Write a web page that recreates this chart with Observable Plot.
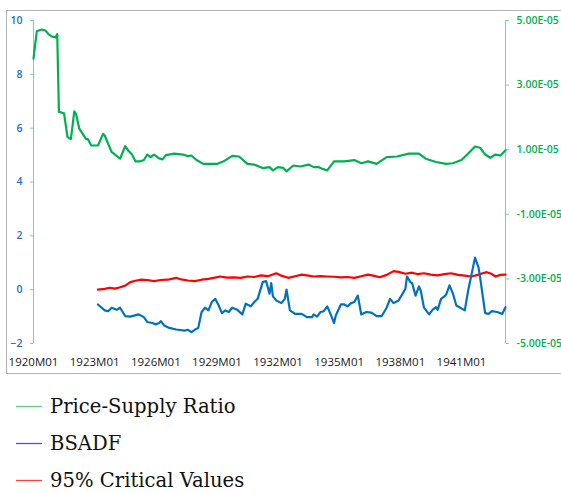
<!DOCTYPE html>
<html><head><meta charset="utf-8">
<script src="https://cdn.jsdelivr.net/npm/d3@7"></script>
<script src="https://cdn.jsdelivr.net/npm/@observablehq/plot@0.6"></script>
<style>
body{margin:0;width:561px;height:493px;overflow:hidden;background:#fff;position:relative}
#frame{position:absolute;left:6px;top:10px;width:620px;height:362px;border:1px solid #b3b3b3}
#chart{position:absolute;left:0;top:0}
#legend{position:absolute;left:0;top:0;width:561px;height:493px;pointer-events:none}
</style></head>
<body>
<div id="frame"></div>
<div id="chart"></div>
<svg id="legend" width="561" height="493"></svg>
<script>
// Price-Supply Ratio (right axis, values ×1e-5)
const psrMonths = ["1920M01","1920M03","1920M06","1920M08","1920M10","1920M12","1921M02","1921M03","1921M04","1921M07","1921M09","1921M11","1922M01","1922M02","1922M04","1922M06","1922M08","1922M09","1922M11","1923M03","1923M06","1923M07","1923M09","1923M11","1924M01","1924M04","1924M07","1924M09","1924M11","1925M01","1925M04","1925M06","1925M08","1925M10","1925M12","1926M03","1926M05","1926M07","1926M12","1927M05","1927M08","1927M10","1928M01","1928M05","1928M09","1929M01","1929M05","1929M10","1930M02","1930M07","1930M11","1931M04","1931M08","1931M10","1932M01","1932M04","1932M06","1932M10","1933M02","1933M07","1933M10","1934M01","1934M03","1934M06","1934M10","1935M04","1935M10","1936M02","1936M06","1936M11","1937M05","1937M11","1938M06","1938M12","1939M04","1939M10","1940M04","1940M08","1941M01","1941M05","1941M09","1941M12","1942M03","1942M06","1942M09","1942M12","1943M03"];
const psrE5 = [3.82,4.67,4.72,4.69,4.57,4.50,4.48,4.58,2.17,2.13,1.39,1.33,2.19,2.11,1.65,1.49,1.33,1.33,1.13,1.13,1.49,1.44,1.18,0.93,0.85,0.72,1.11,0.96,0.85,0.64,0.64,0.68,0.85,0.77,0.85,0.73,0.70,0.83,0.88,0.85,0.80,0.82,0.68,0.56,0.56,0.56,0.64,0.81,0.79,0.56,0.54,0.43,0.46,0.36,0.46,0.44,0.33,0.51,0.48,0.54,0.46,0.46,0.41,0.36,0.64,0.64,0.68,0.58,0.64,0.56,0.77,0.79,0.88,0.88,0.72,0.62,0.56,0.58,0.68,0.88,1.10,1.06,0.85,0.75,0.85,0.82,0.98];

// BSADF (left axis)
const bsadfMonths = ["1923M03","1923M07","1923M09","1923M11","1924M02","1924M04","1924M07","1924M10","1925M03","1925M06","1925M08","1925M11","1926M01","1926M03","1926M04","1926M06","1926M09","1927M01","1927M06","1927M08","1927M10","1927M12","1928M02","1928M04","1928M06","1928M08","1928M10","1928M12","1929M02","1929M04","1929M06","1929M08","1929M10","1930M01","1930M04","1930M06","1930M09","1930M11","1931M01","1931M04","1931M06","1931M08","1931M09","1931M10","1931M12","1932M03","1932M05","1932M06","1932M08","1932M11","1933M03","1933M06","1933M09","1933M10","1933M12","1934M02","1934M04","1934M06","1934M08","1934M10","1934M11","1935M02","1935M04","1935M06","1935M08","1935M10","1935M12","1936M02","1936M05","1936M08","1936M11","1937M02","1937M05","1937M07","1937M09","1937M12","1938M04","1938M05","1938M07","1938M08","1938M10","1938M12","1939M01","1939M03","1939M06","1939M08","1939M10","1939M11","1940M01","1940M03","1940M04","1940M06","1940M08","1940M10","1941M03","1941M05","1941M09","1941M11","1941M12","1942M03","1942M05","1942M07","1942M10","1943M01","1943M03"];
const bsadf = [-0.55,-0.77,-0.80,-0.67,-0.75,-0.67,-0.98,-1.00,-0.92,-1.02,-1.20,-1.24,-1.29,-1.24,-1.17,-1.33,-1.42,-1.48,-1.52,-1.49,-1.58,-1.49,-1.42,-0.83,-0.67,-0.77,-0.46,-0.34,-0.59,-0.87,-0.77,-0.83,-0.67,-0.75,-0.92,-0.52,-0.62,-0.46,-0.34,0.28,0.32,-0.15,0.24,-0.25,-0.40,-0.50,-0.34,0.00,-0.77,-0.90,-0.90,-1.02,-1.02,-0.92,-1.00,-0.83,-0.80,-0.62,-0.92,-1.24,-0.96,-0.55,-0.55,-0.62,-0.50,-0.46,-0.22,-0.92,-0.83,-0.85,-0.98,-0.98,-0.67,-0.34,-0.50,-0.40,0.03,0.49,0.28,0.24,-0.22,0.12,-0.03,-0.67,-0.92,-0.75,-0.65,-0.75,-0.34,-0.25,-0.18,0.16,-0.15,-0.59,-0.77,-0.03,1.19,0.84,0.46,-0.87,-0.90,-0.80,-0.83,-0.90,-0.65];

// 95% Critical Values (left axis)
const cvMonths = ["1923M03","1923M07","1923M10","1924M01","1924M04","1924M07","1924M10","1925M01","1925M04","1925M08","1925M12","1926M04","1926M08","1927M01","1927M04","1927M08","1927M12","1928M04","1928M08","1928M11","1929M03","1929M07","1929M11","1930M03","1930M07","1930M11","1931M03","1931M07","1931M12","1932M03","1932M07","1932M11","1933M03","1933M07","1933M10","1934M02","1934M06","1934M10","1935M02","1935M06","1935M10","1936M02","1936M06","1936M09","1937M01","1937M05","1937M09","1937M12","1938M04","1938M08","1938M11","1939M03","1939M07","1939M11","1940M03","1940M07","1940M11","1941M03","1941M07","1941M11","1942M02","1942M04","1942M07","1942M09","1942M12","1943M03"];
const cv = [0.00,0.03,0.07,0.04,0.09,0.15,0.28,0.33,0.37,0.36,0.32,0.36,0.37,0.44,0.38,0.34,0.32,0.37,0.40,0.44,0.49,0.45,0.46,0.44,0.49,0.47,0.53,0.50,0.61,0.52,0.44,0.50,0.56,0.52,0.49,0.50,0.49,0.48,0.46,0.47,0.44,0.50,0.56,0.52,0.46,0.55,0.69,0.66,0.59,0.63,0.58,0.61,0.56,0.53,0.58,0.61,0.55,0.52,0.49,0.56,0.62,0.65,0.58,0.49,0.55,0.56];

const leftTicks = [-2, 0, 2, 4, 6, 8, 10];
const rightTicksE5 = [-5, -3, -1, 1, 3, 5];
const xTickLabels = ["1920M01","1923M01","1926M01","1929M01","1932M01","1935M01","1938M01","1941M01"];
const xStart = "1920M01", xEnd = "1943M03";
const seriesNames = ["Price-Supply Ratio", "BSADF", "95% Critical Values"];
const legendColors = ["#5fcf85", "#4d4dff", "#ff4040"];

const parse = d3.utcParse("%YM%m");
const fmtM = d3.utcFormat("%YM%m");
// right axis (×1e-5) ↔ left axis mapping: 5E-05 ↔ 10, -5E-05 ↔ -2
const toLeft = r => 10 - (5 - r) * 1.2;
const fromLeft = v => 5 - (10 - v) / 1.2;
const fmtE = r => (Math.round(r * 100) / 100).toFixed(2) + "E-05";

const psr = psrMonths.map((m, i) => ({date: parse(m), v: psrE5[i]}));
const bs = bsadfMonths.map((m, i) => ({date: parse(m), v: bsadf[i]}));
const cr = cvMonths.map((m, i) => ({date: parse(m), v: cv[i]}));

const axisGreen = "#7dd3a0";
const chart = Plot.plot({
  width: 561, height: 378,
  marginLeft: 33, marginRight: 56, marginTop: 20, marginBottom: 35,
  x: {type: "utc", domain: [parse(xStart), parse(xEnd)]},
  y: {domain: [-2, 10]},
  style: {fontFamily: "'Open Sans', sans-serif", background: "transparent"},
  marks: [
    Plot.ruleX([parse(xStart)], {y1: -2, y2: 10, stroke: axisGreen, strokeWidth: 1}),
    Plot.ruleX([parse(xEnd)], {y1: -2, y2: 10, stroke: axisGreen, strokeWidth: 1}),
    Plot.axisY(leftTicks, {anchor: "left", tickSize: 3, tickPadding: 8, stroke: axisGreen, fill: "#1f6fbf", fontSize: 10.5, fontWeight: 600, label: null}),
    Plot.axisY(rightTicksE5.map(toLeft), {anchor: "right", tickSize: 3, tickPadding: 8, stroke: axisGreen, fill: "#00b050", fontSize: 10.5, fontWeight: 600, tickFormat: v => fmtE(fromLeft(v)), label: null}),
    Plot.axisX(xTickLabels.map(parse), {anchor: "bottom", tickSize: 0, tickPadding: 14, tickFormat: fmtM, fill: "#1a1a1a", fontSize: 11.5, label: null}),
    Plot.line(psr, {x: "date", y: d => toLeft(d.v), stroke: "#00b050", strokeWidth: 2.2}),
    Plot.line(cr, {x: "date", y: "v", stroke: "#ff0000", strokeWidth: 2.2}),
    Plot.line(bs, {x: "date", y: "v", stroke: "#0070c0", strokeWidth: 2.2})
  ]
});
document.getElementById("chart").appendChild(chart);

// Legend below the chart
const lg = d3.select("#legend");
seriesNames.forEach((name, i) => {
  const cy = 406 + i * 37;
  lg.append("line").attr("x1", 16).attr("x2", 42).attr("y1", cy + 0.5).attr("y2", cy + 0.5)
    .attr("stroke", legendColors[i]).attr("stroke-width", 1.3);
  lg.append("text").attr("x", 50).attr("y", cy).attr("dy", "0.35em")
    .attr("font-family", "'DejaVu Serif', serif").attr("font-size", 19.6)
    .attr("fill", "#111").text(name);
});
</script>
</body></html>
